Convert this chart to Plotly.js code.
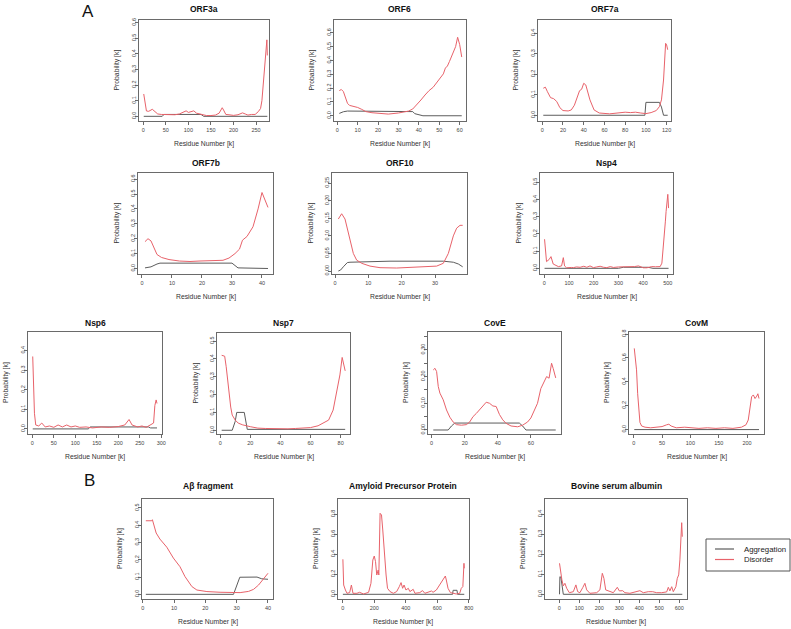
<!DOCTYPE html>
<html><head><meta charset="utf-8">
<script src="https://cdn.plot.ly/plotly-3.0.1.min.js"></script>
<style>html,body{margin:0;padding:0;background:#fff}</style>
</head><body><div id="chart" style="width:791px;height:629px"></div>
<script>
// ---------------- DATA ----------------
const titles = ['ORF3a','ORF6','ORF7a','ORF7b','ORF10','Nsp4','Nsp6','Nsp7','CovE','CovM','Aβ fragment','Amyloid Precursor Protein','Bovine serum albumin'];
const seriesNames = ['Aggregation','Disorder'];

const orf3a_dx = [1,4,7,12,20,26,32,40,50,60,70,80,88,95,100,106,112,118,125,132,140,150,160,168,172,175,178,183,190,200,210,220,226,232,240,248,255,260,263,266,268,270,272,274,275];
const orf3a_dis = [0.143,0.07,0.034,0.032,0.045,0.03,0.015,0.012,0.012,0.012,0.01,0.015,0.028,0.035,0.025,0.03,0.035,0.02,0.014,0.008,0.005,0.005,0.008,0.02,0.045,0.055,0.04,0.012,0.01,0.006,0.01,0.022,0.015,0.008,0.012,0.012,0.03,0.05,0.1,0.2,0.3,0.36,0.42,0.49,0.39];
const orf3a_ax = [1,42,46,128,134,275];
const orf3a_agg = [0,0,0.012,0.012,0,0];

const orf6_dx = [1,2,3,4,5,6,8,10,12,14,17,20,25,30,33,35,37,39,41,43,45,47,49,50,52,53,54,55,56,57,58,59,60,61];
const orf6_dis = [0.182,0.19,0.175,0.126,0.09,0.075,0.068,0.06,0.046,0.03,0.022,0.017,0.012,0.02,0.027,0.034,0.049,0.078,0.114,0.15,0.182,0.206,0.245,0.26,0.303,0.345,0.36,0.393,0.43,0.454,0.5,0.568,0.515,0.425];
const orf6_ax = [1,3,5,36,37,38,40,42,61];
const orf6_agg = [0.017,0.029,0.034,0.034,0.03,0.015,0.006,0,0];

const orf7a_dx = [1,3,5,8,11,14,17,20,25,28,31,34,36,38,40,42,44,46,50,55,65,75,80,85,90,95,100,105,110,113,115,117,118,119,120,121];
const orf7a_dis = [0.132,0.137,0.115,0.086,0.081,0.067,0.037,0.023,0.021,0.026,0.049,0.091,0.12,0.127,0.156,0.148,0.107,0.075,0.026,0.011,0.007,0.011,0.015,0.013,0.015,0.011,0.008,0.013,0.023,0.042,0.075,0.172,0.3,0.351,0.343,0.32];
const orf7a_ax = [1,99,100,113,115,117,121];
const orf7a_agg = [0,0,0.063,0.063,0.04,0,0];

const orf7b_dx = [1,2,3,5,6.5,9,12.5,16,19,22.5,27,29,31,32.5,33.5,35,37,38.7,40,42];
const orf7b_dis = [0.18,0.2,0.185,0.094,0.074,0.06,0.05,0.047,0.05,0.053,0.055,0.07,0.1,0.13,0.19,0.215,0.28,0.4,0.51,0.41];
const orf7b_ax = [1,3,5,6,30,31,32,42];
const orf7b_agg = [0.004,0.011,0.03,0.036,0.036,0.022,0.004,0];

const orf10_dx = [1,2,3,3.7,4.5,5.5,6.5,8,10.5,13.5,18.5,23.5,28.5,30.5,32.5,34,35.5,36.5,37.5,38.3];
const orf10_dis = [0.148,0.163,0.148,0.122,0.088,0.05,0.031,0.022,0.014,0.0095,0.0085,0.0105,0.0124,0.014,0.022,0.05,0.1,0.122,0.13,0.13];
const orf10_ax = [1,1.7,2.5,3.7,4.5,10.5,16.5,32.5,35.5,37,38.3];
const orf10_agg = [0,0.003,0.012,0.024,0.025,0.026,0.028,0.028,0.025,0.02,0.012];

const nsp4_dx = [1,9,20,27,36,50,57,70,77,82,90,110,118,130,145,160,172,185,199,212,226,240,253,267,280,300,320,335,347,365,381,392,401,415,435,450,469,476,480,483,486,490,493,497,500,503];
const nsp4_dis = [0.169,0.039,0.052,0.068,0.025,0.012,0.01,0.014,0.062,0.014,0.003,0.005,0.004,0.008,0.006,0.012,0.006,0.014,0.004,0.008,0.012,0.006,0.004,0.01,0.005,0.008,0.008,0.01,0.008,0.01,0.014,0.006,0.003,0.003,0.01,0.009,0.01,0.03,0.087,0.15,0.2,0.27,0.33,0.38,0.43,0.35];
const nsp4_ax = [1,300,320,420,440,503];
const nsp4_agg = [0,0,0.006,0.006,0,0];

const nsp6_dx = [1,3,5,8,15,22,30,40,50,60,70,80,90,100,110,125,140,160,180,200,215,225,232,245,255,265,275,282,285,288,290];
const nsp6_dis = [0.37,0.25,0.08,0.02,0.015,0.03,0.01,0.015,0.008,0.02,0.01,0.02,0.01,0.015,0.008,0.01,0.005,0.01,0.008,0.012,0.02,0.048,0.02,0.01,0.015,0.008,0.02,0.03,0.12,0.148,0.13];
const nsp6_ax = [1,130,135,270,275,290];
const nsp6_agg = [0,0,0.01,0.01,0.005,0.005];

const nsp7_dx = [1,3,4,5,6,7,8,10,12,15,20,25,30,35,40,45,50,55,60,65,70,72,75,77,79.5,81,82,83];
const nsp7_dis = [0.42,0.415,0.356,0.28,0.197,0.13,0.085,0.057,0.04,0.03,0.02,0.012,0.01,0.008,0.01,0.008,0.01,0.012,0.015,0.025,0.045,0.057,0.113,0.206,0.31,0.408,0.375,0.333];
const nsp7_ax = [1,8,10,11,16,17,18,83];
const nsp7_agg = [0,0,0.05,0.1,0.1,0.05,0.005,0.005];

const cove_dx = [1,2,3,4,5,7,9,11,13,15,18,21,23,25,27,29,31,33,35,37,39,41,43,45,48,52,55,58,60,62,64,66,68,69.5,71,72.5,73.5,75];
const cove_dis = [0.225,0.231,0.219,0.163,0.138,0.113,0.075,0.048,0.03,0.02,0.018,0.02,0.03,0.05,0.062,0.075,0.09,0.104,0.1,0.09,0.088,0.058,0.038,0.025,0.015,0.012,0.018,0.03,0.045,0.07,0.1,0.155,0.18,0.2,0.194,0.25,0.23,0.195];
const cove_ax = [1,10,12,14,53,55,57,75];
const cove_agg = [0,0,0.015,0.026,0.026,0.015,0,0];

const covm_dx = [1,3,5,7,9,11,14,20,30,40,50,58,62,66,75,90,100,115,130,145,160,175,190,198,202,205,208,211,214,217,219,221];
const covm_dis = [0.68,0.6,0.5,0.3,0.15,0.06,0.03,0.02,0.015,0.02,0.025,0.04,0.045,0.03,0.015,0.02,0.015,0.01,0.015,0.01,0.015,0.01,0.02,0.04,0.08,0.2,0.275,0.29,0.26,0.28,0.3,0.26];
const covm_ax = [1,221];
const covm_agg = [0,0];

const abeta_dx = [1,2.9,3.1,3.6,4.3,5.5,7.7,9.8,11.9,13.5,15.7,17.3,20.5,24.7,29,31.1,33.8,35.4,37,38.6,40];
const abeta_dis = [0.426,0.426,0.432,0.393,0.355,0.32,0.273,0.21,0.16,0.103,0.045,0.025,0.016,0.012,0.01,0.01,0.017,0.029,0.054,0.093,0.122];
const abeta_ax = [1,29,29.5,31,36.5,38,40];
const abeta_agg = [0,0,0.025,0.099,0.1,0.09,0.087];

const app_dx = [1,6,17,27,44,55,65,90,107,132,164,179,191,200,208,216,225,229,237,246,254,263,271,275,284,300,321,342,359,370,380,389,401,416,426,447,458,489,506,521,563,573,594,615,626,640,651,657,668,683,700,720,742,752,762,769,771];
const app_dis = [0.35,0.093,0.043,0.01,0.017,0.093,0.01,0.01,0.02,0.003,0.02,0.11,0.343,0.383,0.327,0.193,0.243,0.193,0.81,0.793,0.643,0.41,0.21,0.193,0.06,0.027,0.01,0.027,0.077,0.117,0.06,0.093,0.043,0.06,0.027,0.05,0.01,0.017,0.037,0.01,0.033,0.02,0.043,0.093,0.127,0.16,0.183,0.143,0.06,0.017,0.01,0.003,0.01,0.06,0.077,0.31,0.26];
const app_ax = [1,697,700,725,728,771];
const app_agg = [0,0,0.04,0.04,0,0];

const bsa_dx = [1,7,13,20,28,37,50,70,83,92,103,117,128,137,153,187,203,215,223,232,245,270,290,300,317,328,353,378,403,420,445,467,487,512,537,545,553,562,570,583,590,597,603,612,615];
const bsa_dis = [0.155,0.097,0.072,0.042,0.055,0.03,0.008,0.013,0.047,0.013,0.008,0.033,0.055,0.022,0.005,0.008,0.022,0.105,0.08,0.022,0.017,0.008,0.035,0.017,0.018,0.008,0.005,0.012,0.018,0.008,0.013,0.013,0.008,0.008,0.012,0.035,0.017,0.038,0.013,0.038,0.08,0.097,0.172,0.358,0.288];
const bsa_ax = [1,3,8,13,20,615];
const bsa_agg = [0,0.088,0.085,0.038,0,0];

// ---------------- PANEL LAYOUT ----------------
const W = 791, H = 629;
const FONT = '"Liberation Sans", Arial, Helvetica, sans-serif';
const RED = '#e8626a', GRAY = '#5c5c5c', FRAME = '#6a6a6a';

const cove_tv = [0,0.05,0.1,0.15,0.2,0.25,0.3,0.35];
const cove_tt = ['0.00','','0.10','','0.20','','0.30',''];

const panels = [
  {dx:orf3a_dx, dy:orf3a_dis, ax:orf3a_ax, ay:orf3a_agg, box:[139,20,269,121], xr:[-9.5,278.7], yr:[-0.030,0.617], xd:50, yd:0.1, yf:'.1f', ty:9},
  {dx:orf6_dx, dy:orf6_dis, ax:orf6_ax, ay:orf6_agg, box:[334,20,466,121], xr:[-1.6,63.1], yr:[-0.038,0.693], xd:10, yd:0.1, yf:'.1f', ty:9},
  {dx:orf7a_dx, dy:orf7a_dis, ax:orf7a_ax, ay:orf7a_agg, box:[538,20,671,121], xr:[-4.1,124.2], yr:[-0.028,0.465], xd:20, yd:0.1, yf:'.1f', ty:9},
  {dx:orf7b_dx, dy:orf7b_dis, ax:orf7b_ax, ay:orf7b_agg, box:[138,173,273,274], xr:[-1.33,43.67], yr:[-0.037,0.641], xd:10, yd:0.1, yf:'.1f', ty:163},
  {dx:orf10_dx, dy:orf10_dis, ax:orf10_ax, ay:orf10_agg, box:[332,173,467,274], xr:[-0.9,39.6], yr:[-0.0085,0.279], xd:10, yd:0.05, yf:'.2f', ty:163},
  {dx:nsp4_dx, dy:nsp4_dis, ax:nsp4_ax, ay:nsp4_agg, box:[540,173,673,274], xr:[-17.4,521], yr:[-0.033,0.554], xd:100, yd:0.1, yf:'.1f', ty:163},
  {dx:nsp6_dx, dy:nsp6_dis, ax:nsp6_ax, ay:nsp6_agg, box:[28,332,162,434], xr:[-10,301.6], yr:[-0.026,0.495], xd:50, yd:0.1, yf:'.1f', ty:323},
  {dx:nsp7_dx, dy:nsp7_dis, ax:nsp7_ax, ay:nsp7_agg, box:[217,333,350,434], xr:[-2.1,86.2], yr:[-0.021,0.545], xd:20, yd:0.1, yf:'.1f', ty:323},
  {dx:cove_dx, dy:cove_dis, ax:cove_ax, ay:cove_agg, box:[428,332,561,434], xr:[-2.2,78.2], yr:[-0.015,0.367], xd:20, tv:cove_tv, tt:cove_tt, ty:323},
  {dx:covm_dx, dy:covm_dis, ax:covm_ax, ay:covm_agg, box:[629,332,764,434], xr:[-8.3,229.8], yr:[-0.037,0.817], xd:50, yd:0.2, yf:'.1f', ty:323},
  {dx:abeta_dx, dy:abeta_dis, ax:abeta_ax, ay:abeta_agg, box:[142,499,273,599], xr:[-0.22,41.6], yr:[-0.027,0.552], xd:10, yd:0.1, yf:'.1f', ty:486},
  {dx:app_dx, dy:app_dis, ax:app_ax, ay:app_agg, box:[338,499,469,599], xr:[-30,801], yr:[-0.047,0.953], xd:200, yd:0.2, yf:'.1f', ty:486},
  {dx:bsa_dx, dy:bsa_dis, ax:bsa_ax, ay:bsa_agg, box:[545,499,687,599], xr:[-71.5,638.5], yr:[-0.0235,0.4765], xd:100, yd:0.1, yf:'.1f', ty:486}
];

const data = [];
const annotations = [];
const shapes = [];
const layout = {
  width: W, height: H, autosize: false,
  margin: {l:0, r:0, t:0, b:0, pad:0},
  paper_bgcolor: '#fff', plot_bgcolor: '#fff',
  font: {family: FONT, color: '#222'},
  showlegend: false,
  annotations: annotations,
  shapes: shapes
};

panels.forEach((p, i) => {
  const n = i + 1;
  const sfx = n === 1 ? '' : String(n);
  const xref = 'x' + sfx, yref = 'y' + sfx;
  data.push({type:'scatter', mode:'lines', x:p.ax, y:p.ay, xaxis:xref, yaxis:yref,
             name:seriesNames[0], legendgroup:'agg', showlegend:false,
             line:{color:GRAY, width:1}, hoverinfo:'skip'});
  data.push({type:'scatter', mode:'lines', x:p.dx, y:p.dy, xaxis:xref, yaxis:yref,
             name:seriesNames[1], legendgroup:'dis', showlegend:false,
             line:{color:RED, width:1}, hoverinfo:'skip'});
  const [l, t, r, b] = p.box;
  const common = {showline:true, mirror:true, linecolor:FRAME, linewidth:1,
                  ticks:'outside', ticklen:3, tickwidth:1, tickcolor:FRAME,
                  showgrid:false, zeroline:false, fixedrange:true,
                  tickfont:{size:5.5, color:'#444', family:FONT}};
  layout['xaxis' + sfx] = Object.assign({}, common, {
    domain:[l/W, r/W], range:p.xr, anchor:yref, tick0:0, dtick:p.xd});
  const ya = Object.assign({}, common, {
    domain:[1-b/H, 1-t/H], range:p.yr, anchor:xref, tickangle:-90,
    ticklabelstandoff:-3});
  if (p.tv) { ya.tickmode = 'array'; ya.tickvals = p.tv; ya.ticktext = p.tt; }
  else { ya.tick0 = 0; ya.dtick = p.yd; ya.tickformat = p.yf; }
  layout['yaxis' + sfx] = ya;

  annotations.push({xref:'paper', yref:'paper', x:(l+r)/2/W, y:1-p.ty/H,
    xanchor:'center', yanchor:'middle', showarrow:false,
    text:'<b>' + titles[i] + '</b>', font:{size:8.5, family:FONT, color:'#111'}});
  annotations.push({xref:'paper', yref:'paper', x:(l+r)/2/W, y:1-(b+23)/H,
    xanchor:'center', yanchor:'middle', showarrow:false,
    text:'Residue Number [k]', font:{size:6.8, family:FONT, color:'#333'}});
  annotations.push({xref:'paper', yref:'paper', x:(l-22)/W, y:1-((t+b)/2)/H,
    xanchor:'center', yanchor:'middle', showarrow:false, textangle:-90,
    text:'Probability [k]', font:{size:6.8, family:FONT, color:'#333'}});
});

// panel letters
annotations.push({xref:'paper', yref:'paper', x:88/W, y:1-11/H, xanchor:'center', yanchor:'middle',
  showarrow:false, text:'A', font:{size:17, family:FONT, color:'#111'}});
annotations.push({xref:'paper', yref:'paper', x:89/W, y:1-480/H, xanchor:'center', yanchor:'middle',
  showarrow:false, text:'B', font:{size:17, family:FONT, color:'#111'}});

// legend (drawn as a key box, like R's legend())
const legendColors = [GRAY, RED];
shapes.push({type:'rect', xref:'paper', yref:'paper', x0:706/W, x1:790/W, y0:1-571/H, y1:1-539/H,
  line:{color:'#555', width:1}, fillcolor:'rgba(0,0,0,0)'});
seriesNames.forEach((nm, k) => {
  const yy = 549 + k*10.5;
  shapes.push({type:'line', xref:'paper', yref:'paper', x0:715/W, x1:734/W, y0:1-yy/H, y1:1-yy/H,
    line:{color:legendColors[k], width:1.2}});
  annotations.push({xref:'paper', yref:'paper', x:742/W, y:1-yy/H, xanchor:'left', yanchor:'middle',
    showarrow:false, text:nm, font:{size:7.8, family:FONT, color:'#222'}});
});

Plotly.newPlot('chart', data, layout, {staticPlot:true, displayModeBar:false});
</script></body></html>
